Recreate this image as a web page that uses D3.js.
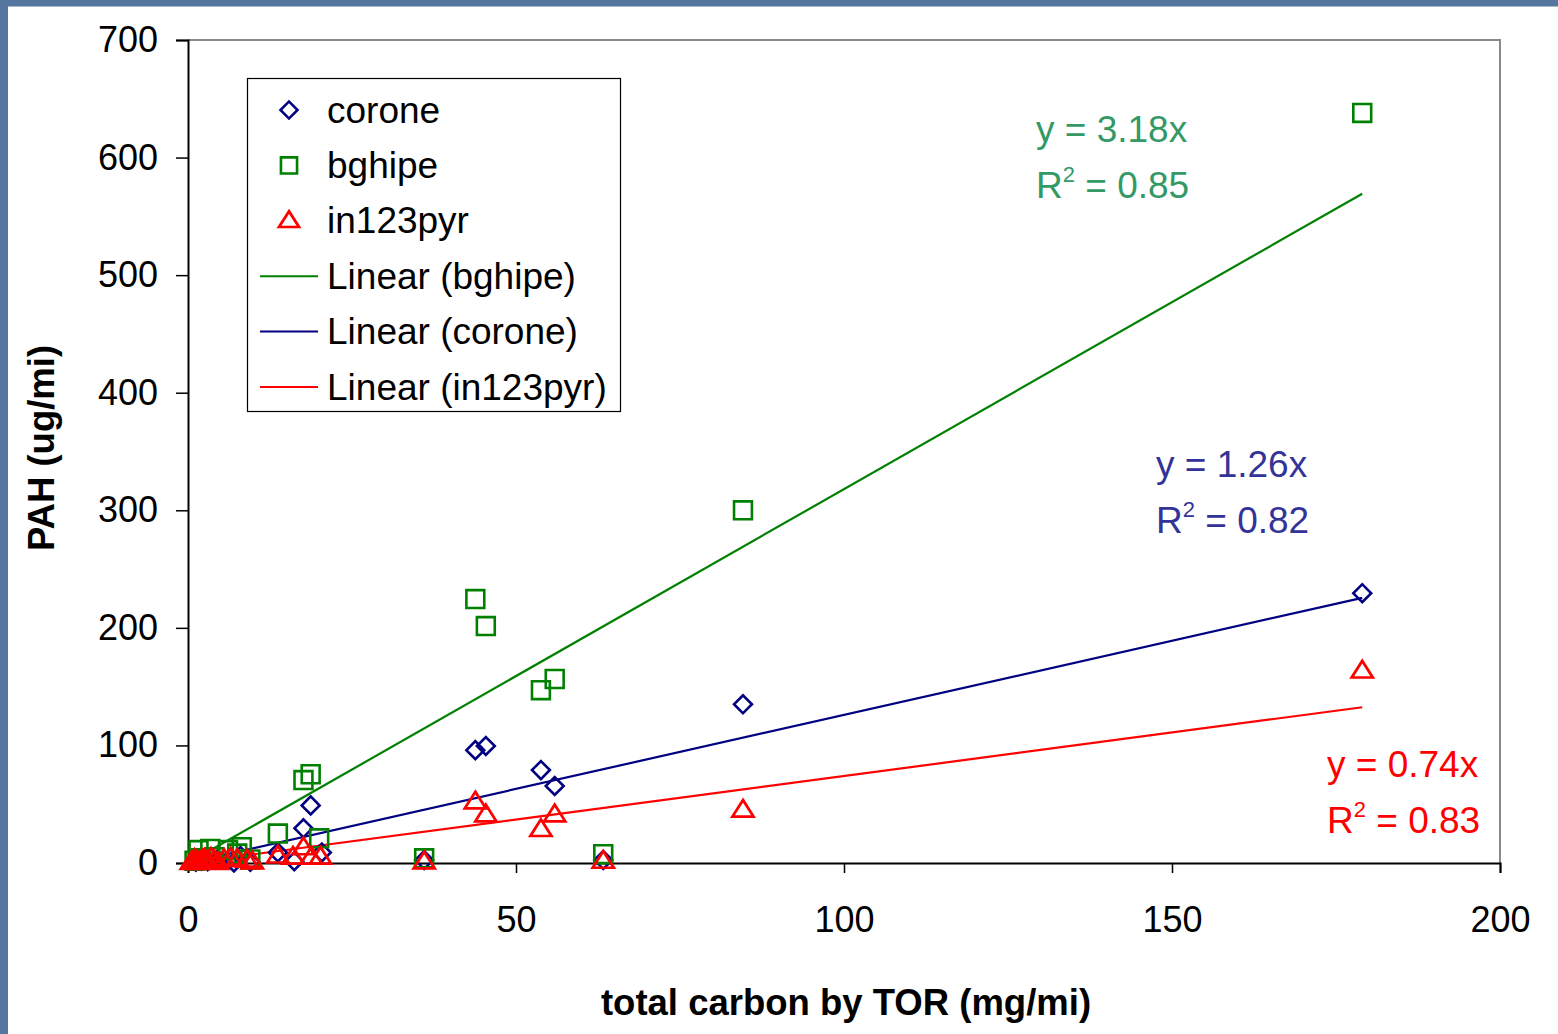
<!DOCTYPE html>
<html>
<head>
<meta charset="utf-8">
<script src="https://cdn.jsdelivr.net/npm/d3@7/dist/d3.min.js"></script>
<style>
  html, body { margin: 0; padding: 0; background: #ffffff; }
  svg { display: block; font-family: "Liberation Sans", Arial, sans-serif; }
</style>
</head>
<body>
<svg id="chart" width="1558" height="1034"></svg>
<script>
// Total carbon (mg/mi) vs PAH emissions (ug/mi)
const seriesNames = ["corone", "bghipe", "in123pyr"];

const corone = [
  [179, 229.5], [84.6, 135], [43.8, 96], [45.4, 99.5], [53.8, 79], [55.9, 65.5],
  [18.7, 49], [17.6, 29.5], [13.7, 9], [16.2, 1.5], [20.4, 9], [36, 2.5], [63.3, 2.5],
  [1.2, 1], [2, 2], [3, 1.5], [4.5, 3], [6.5, 4], [8, 6], [9.5, 1], [7, 0.5]
];
const bghipe = [
  [179, 638], [84.6, 300], [43.8, 224.5], [45.4, 201.5], [53.8, 147], [55.9, 156.5],
  [17.6, 70.5], [18.7, 75.5], [13.7, 25], [20, 21], [36, 4], [63.3, 7.5],
  [1.6, 11], [3.4, 12], [6.1, 11], [8.2, 13.5], [7.5, 8], [1, 2], [2, 4], [4, 5], [9.5, 3]
];
const in123pyr = [
  [179, 163.3], [84.6, 45], [43.8, 52], [45.4, 41], [53.8, 28.5], [55.9, 41],
  [17.6, 13], [13.7, 6], [16, 5], [18.8, 5], [20.2, 5], [36, 1], [63.3, 1.5],
  [0.5, 0.5], [0.8, 1], [1, 3], [1.2, 2], [1.5, 0.5], [1.8, 1], [2.2, 2.5], [2.5, 3],
  [2.8, 0.8], [3, 1.5], [3.5, 4], [4, 2], [4.5, 0.5], [5.5, 3], [6.5, 4],
  [7.5, 3], [9, 2.5], [9.8, 1]
];

// zero-intercept linear fits: slope and R²
const slopes = { bghipe: 3.18, corone: 1.26, in123pyr: 0.74 };
const r2 = { bghipe: "0.85", corone: "0.82", in123pyr: "0.83" };

const xTicks = [0, 50, 100, 150, 200];
const yTicks = [0, 100, 200, 300, 400, 500, 600, 700];

const colors = { corone: "#000080", bghipe: "#008000", in123pyr: "#ff0000" };
const labelColors = { corone: "#333399", bghipe: "#339966", in123pyr: "#ff0000" };

const svg = d3.select("#chart");
const W = 1558, H = 1034;

// slide frame
svg.append("rect").attr("x", 0).attr("y", 0).attr("width", W).attr("height", H).attr("fill", "#55769e");
svg.append("rect").attr("x", 8).attr("y", 6.5).attr("width", W - 8).attr("height", H - 6.5).attr("fill", "#ffffff");

const m = { left: 188, right: 1500, top: 40, bottom: 863 };
const x = d3.scaleLinear().domain([0, 200]).range([m.left, m.right]);
const y = d3.scaleLinear().domain([0, 700]).range([m.bottom, m.top]);

// plot area outline (top & right)
svg.append("path")
  .attr("d", `M${m.left},${m.top}H${m.right}V${m.bottom}`)
  .attr("fill", "none").attr("stroke", "#8a8a8a").attr("stroke-width", 2);

// axes
const yAxis = svg.append("g").attr("transform", `translate(${m.left},0)`)
  .call(d3.axisLeft(y).tickValues(yTicks).tickSize(12).tickPadding(18).tickFormat(d3.format("d")));
const xAxis = svg.append("g").attr("transform", `translate(0,${m.bottom})`)
  .call(d3.axisBottom(x).tickValues(xTicks).tickSize(10).tickPadding(33).tickFormat(d3.format("d")));
[yAxis, xAxis].forEach(g => {
  g.select(".domain").attr("stroke", "#000").attr("stroke-width", 2);
  g.selectAll(".tick line").attr("stroke", "#000").attr("stroke-width", 1.5);
  g.selectAll(".tick text").attr("fill", "#000").style("font-size", "36px")
    .style("font-family", "'Liberation Sans', Arial, sans-serif");
});

// axis titles
svg.append("text").attr("x", 846).attr("y", 1015).attr("text-anchor", "middle")
  .style("font-size", "36.5px").style("font-weight", "bold").text("total carbon by TOR (mg/mi)");
svg.append("text").attr("transform", "translate(54,448) rotate(-90)").attr("text-anchor", "middle")
  .style("font-size", "36.5px").style("font-weight", "bold").text("PAH (ug/mi)");

// trend lines
const dataBy = { corone, bghipe, in123pyr };
["bghipe", "corone", "in123pyr"].forEach(name => {
  const xs = dataBy[name].map(d => d[0]);
  const x0 = d3.min(xs), x1 = d3.max(xs);
  svg.append("line")
    .attr("x1", x(x0)).attr("y1", y(slopes[name] * x0))
    .attr("x2", x(x1)).attr("y2", y(slopes[name] * x1))
    .attr("stroke", colors[name]).attr("stroke-width", 2.2);
});

// marker shapes
const sym = {
  corone: d3.symbol().type(d3.symbolSquare).size(160),
  bghipe: d3.symbol().type(d3.symbolSquare).size(320),
  in123pyr: d3.symbol().type(d3.symbolTriangle).size(160)
};
function marker(g, name, cx, cy, scale) {
  const k = scale || 1;
  let p;
  if (name === "corone") {
    p = g.append("path").attr("d", sym.corone()).attr("transform", `translate(${cx},${cy}) rotate(45) scale(${k})`);
  } else if (name === "bghipe") {
    p = g.append("path").attr("d", sym.bghipe()).attr("transform", `translate(${cx},${cy}) scale(${k})`);
  } else {
    p = g.append("path").attr("d", sym.in123pyr()).attr("transform", `translate(${cx},${cy + 1}) scale(${1.1 * k},${1.0 * k})`);
  }
  p.attr("fill", "none").attr("stroke", colors[name]).attr("stroke-width", 2.6 / k);
}

const pts = svg.append("g");
["corone", "bghipe", "in123pyr"].forEach(name => {
  dataBy[name].forEach(d => marker(pts, name, x(d[0]), y(d[1])));
});

// fit equations
const eqPos = {
  bghipe: { x: 1036, y: 142 },
  corone: { x: 1156, y: 477 },
  in123pyr: { x: 1327, y: 777 }
};
Object.keys(eqPos).forEach(name => {
  const p = eqPos[name];
  const g = svg.append("g").attr("fill", labelColors[name]).style("font-size", "37px");
  g.append("text").attr("x", p.x).attr("y", p.y).text(`y = ${slopes[name].toFixed(2)}x`);
  const t = g.append("text").attr("x", p.x).attr("y", p.y + 56);
  t.append("tspan").text("R");
  t.append("tspan").attr("dy", -16).style("font-size", "22px").text("2");
  t.append("tspan").attr("dy", 16).text(` = ${r2[name]}`);
});

// legend
const lg = svg.append("g");
lg.append("rect").attr("x", 247.5).attr("y", 78.5).attr("width", 373).attr("height", 333)
  .attr("fill", "#fff").attr("stroke", "#000").attr("stroke-width", 1.2);
const legendRows = [
  { type: "marker", name: "corone", label: "corone" },
  { type: "marker", name: "bghipe", label: "bghipe" },
  { type: "marker", name: "in123pyr", label: "in123pyr" },
  { type: "line", name: "bghipe", label: "Linear (bghipe)" },
  { type: "line", name: "corone", label: "Linear (corone)" },
  { type: "line", name: "in123pyr", label: "Linear (in123pyr)" }
];
legendRows.forEach((r, i) => {
  const cy = 110 + i * 55.4;
  if (r.type === "marker") {
    marker(lg, r.name, 289, cy, r.name === "bghipe" ? 0.9 : 0.95);
  } else {
    lg.append("line").attr("x1", 260).attr("x2", 318).attr("y1", cy).attr("y2", cy)
      .attr("stroke", colors[r.name]).attr("stroke-width", 2);
  }
  lg.append("text").attr("x", 327).attr("y", cy + 12.5).style("font-size", "37px").attr("fill", "#000").text(r.label);
});
</script>
</body>
</html>
